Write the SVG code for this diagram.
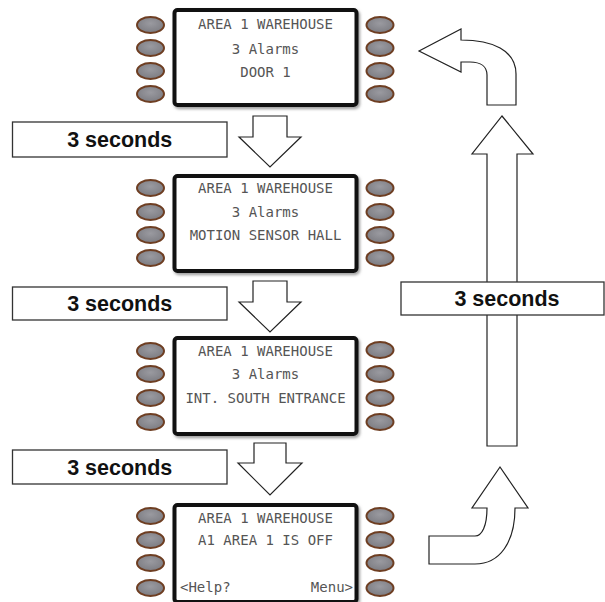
<svg xmlns="http://www.w3.org/2000/svg" width="605" height="602" viewBox="0 0 605 602">
<defs>
<filter id="sh" x="-10%" y="-10%" width="130%" height="130%">
<feGaussianBlur stdDeviation="1.5"/>
</filter>
<radialGradient id="btn" cx="50%" cy="40%" r="60%">
<stop offset="0" stop-color="#9a9aa0"/>
<stop offset="1" stop-color="#7c7c82"/>
</radialGradient>
</defs>
<style>
.scr{fill:#fff;stroke:#111;stroke-width:4}
.shd{fill:none;stroke:#999;stroke-width:4;filter:url(#sh)}
.btn{fill:url(#btn);stroke:#6e3e22;stroke-width:2}
.lcd{font-family:"DejaVu Sans Mono","Liberation Mono",monospace;font-size:14px;fill:#555;text-anchor:middle}
.box{fill:#fff;stroke:#333;stroke-width:1.3}
.lbl{font-family:"Liberation Sans",Arial,sans-serif;font-weight:bold;font-size:21.5px;fill:#111;text-anchor:middle}
.arr{fill:#fff;stroke:#222;stroke-width:1.2;stroke-linejoin:miter}
</style>
<rect width="605" height="602" fill="#fff"/>

<g id="connectors">
<path class="arr" d="M253,116 H287 V137 H301 L270,167 L239,137 H253 Z"/>
<path class="arr" d="M253,281 H287 V302 H301 L270,332 L239,302 H253 Z"/>
<path class="arr" d="M254,443 H286 V463 H302 L270,495 L238,463 H254 Z"/>
<path class="arr" d="M502,116 L533,154 L517,154 L517,446 L487,446 L487,154 L472,154 Z"/>
<path class="arr" d="M419,51 L461,29 L461,40 C492,40 516,50 516,74 L516,105 L487,105 L487,75 C487,67 481,62 470,62 L461,62 L461,72 Z"/>
<path class="arr" d="M500,467 L528,508 L515,508 C515,542 500,564 475,564 L429,564 L429,536 L475,536 C482,536 487,526 487,508 L472,508 Z"/>
</g>

<g id="panel1">
<rect class="shd" x="176" y="12" width="182" height="95" rx="3"/>
<rect class="scr" x="174.5" y="10" width="182" height="95" rx="3"/>
<ellipse class="btn" cx="150.5" cy="25" rx="13.5" ry="8"/>
<ellipse class="btn" cx="150.5" cy="48" rx="13.5" ry="8"/>
<ellipse class="btn" cx="150.5" cy="71" rx="13.5" ry="8"/>
<ellipse class="btn" cx="150.5" cy="94" rx="13.5" ry="8"/>
<ellipse class="btn" cx="380" cy="25" rx="13.5" ry="8"/>
<ellipse class="btn" cx="380" cy="48" rx="13.5" ry="8"/>
<ellipse class="btn" cx="380" cy="71" rx="13.5" ry="8"/>
<ellipse class="btn" cx="380" cy="94" rx="13.5" ry="8"/>
<text class="lcd" x="265.5" y="29">AREA 1 WAREHOUSE</text>
<text class="lcd" x="265.5" y="54">3 Alarms</text>
<text class="lcd" x="265.5" y="77">DOOR 1</text>
</g>

<g id="panel2">
<rect class="shd" x="176" y="178" width="182" height="95" rx="3"/>
<rect class="scr" x="174.5" y="176" width="182" height="95" rx="3"/>
<ellipse class="btn" cx="150.5" cy="188" rx="13.5" ry="8"/>
<ellipse class="btn" cx="150.5" cy="212" rx="13.5" ry="8"/>
<ellipse class="btn" cx="150.5" cy="235" rx="13.5" ry="8"/>
<ellipse class="btn" cx="150.5" cy="258" rx="13.5" ry="8"/>
<ellipse class="btn" cx="380" cy="188" rx="13.5" ry="8"/>
<ellipse class="btn" cx="380" cy="212" rx="13.5" ry="8"/>
<ellipse class="btn" cx="380" cy="235" rx="13.5" ry="8"/>
<ellipse class="btn" cx="380" cy="258" rx="13.5" ry="8"/>
<text class="lcd" x="265.5" y="193">AREA 1 WAREHOUSE</text>
<text class="lcd" x="265.5" y="217">3 Alarms</text>
<text class="lcd" x="265.5" y="240">MOTION SENSOR HALL</text>
</g>

<g id="panel3">
<rect class="shd" x="176" y="340" width="182" height="96" rx="3"/>
<rect class="scr" x="174.5" y="338" width="182" height="96" rx="3"/>
<ellipse class="btn" cx="150.5" cy="351" rx="13.5" ry="8"/>
<ellipse class="btn" cx="150.5" cy="374" rx="13.5" ry="8"/>
<ellipse class="btn" cx="150.5" cy="398" rx="13.5" ry="8"/>
<ellipse class="btn" cx="150.5" cy="422" rx="13.5" ry="8"/>
<ellipse class="btn" cx="380" cy="350" rx="13.5" ry="8"/>
<ellipse class="btn" cx="380" cy="374" rx="13.5" ry="8"/>
<ellipse class="btn" cx="380" cy="398" rx="13.5" ry="8"/>
<ellipse class="btn" cx="380" cy="422" rx="13.5" ry="8"/>
<text class="lcd" x="265.5" y="356">AREA 1 WAREHOUSE</text>
<text class="lcd" x="265.5" y="379">3 Alarms</text>
<text class="lcd" x="265.5" y="403">INT. SOUTH ENTRANCE</text>
</g>

<g id="panel4">
<rect class="shd" x="176" y="507" width="182" height="97" rx="3"/>
<rect class="scr" x="174.5" y="505" width="182" height="97" rx="3"/>
<ellipse class="btn" cx="150.5" cy="516" rx="13.5" ry="8"/>
<ellipse class="btn" cx="150.5" cy="540" rx="13.5" ry="8"/>
<ellipse class="btn" cx="150.5" cy="563" rx="13.5" ry="8"/>
<ellipse class="btn" cx="150.5" cy="588" rx="13.5" ry="8"/>
<ellipse class="btn" cx="380" cy="516" rx="13.5" ry="8"/>
<ellipse class="btn" cx="380" cy="540" rx="13.5" ry="8"/>
<ellipse class="btn" cx="380" cy="563" rx="13.5" ry="8"/>
<ellipse class="btn" cx="380" cy="588" rx="13.5" ry="8"/>
<text class="lcd" x="265.5" y="523">AREA 1 WAREHOUSE</text>
<text class="lcd" x="265.5" y="545">A1 AREA 1 IS OFF</text>
<text class="lcd" x="180" y="592" style="text-anchor:start">&lt;Help?</text>
<text class="lcd" x="353" y="592" style="text-anchor:end">Menu&gt;</text>
</g>

<g id="label1">
<rect class="box" x="12.5" y="122" width="214.5" height="35"/>
<text class="lbl" x="119.75" y="147">3 seconds</text>
</g>
<g id="label2">
<rect class="box" x="12.5" y="287" width="214.5" height="33"/>
<text class="lbl" x="119.75" y="311">3 seconds</text>
</g>
<g id="label3">
<rect class="box" x="12.5" y="450" width="214.5" height="34"/>
<text class="lbl" x="119.75" y="474.5">3 seconds</text>
</g>
<g id="label4">
<rect class="box" x="401" y="282" width="203" height="33"/>
<text class="lbl" x="507" y="306">3 seconds</text>
</g>
</svg>
